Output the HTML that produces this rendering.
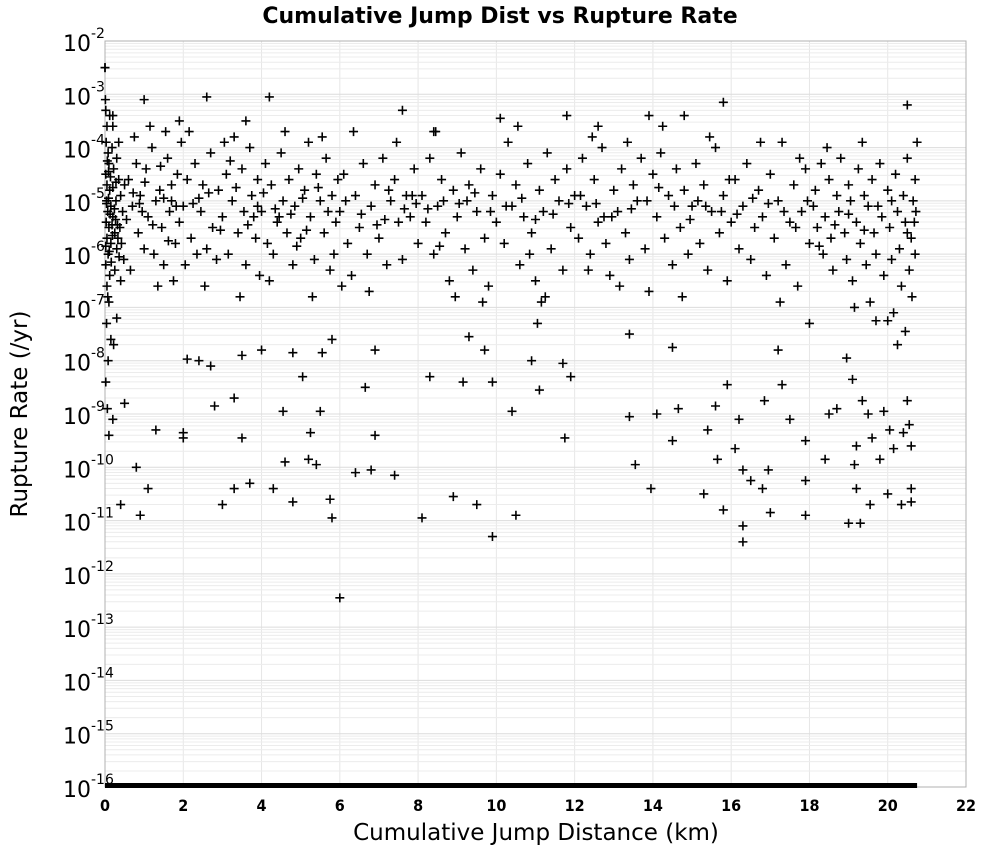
<!DOCTYPE html>
<html><head><meta charset="utf-8"><style>
html,body{margin:0;padding:0;background:#fff;}
svg{display:block;font-family:"DejaVu Sans","Liberation Sans",sans-serif;}
</style></head><body>
<svg id="chart" width="1000" height="850" viewBox="0 0 1000 850" xmlns="http://www.w3.org/2000/svg">
<text x="500" y="23" text-anchor="middle" font-size="22" font-weight="bold">Cumulative Jump Dist vs Rupture Rate</text>
<g id="grid"></g>
<rect x="105" y="41" width="861" height="746" fill="none" stroke="#b0b0b0" stroke-width="1"/>
<g id="marks"></g>
<g id="xticks"></g>
<g id="yticks"></g>
<text x="536" y="840" text-anchor="middle" font-size="23">Cumulative Jump Distance (km)</text>
<text transform="translate(27,414) rotate(-90)" text-anchor="middle" font-size="23">Rupture Rate (/yr)</text>
</svg>
<script>
const xTicks=[0,2,4,6,8,10,12,14,16,18,20,22];
const yTickExps=[-2,-3,-4,-5,-6,-7,-8,-9,-10,-11,-12,-13,-14,-15,-16];
const floorExp=-16;
const floorMaxDistance=20.75;
// [cumulative jump distance km, log10 rupture rate]
const ruptures=[
[0,-2.5],[0.02,-3.3],[0.05,-3.6],[0.03,-3.9],[0.08,-4.1],[0.1,-4.3],[0.02,-4.5],[0.05,-4.7],[0.12,-4.8],[0.04,-5.0],[0.15,-5.1],[0.07,-5.2],[0.2,-5.3],[0.03,-5.4],[0.1,-5.5],[0.25,-5.6],[0.05,-5.7],[0.15,-5.8],[0.3,-5.9],[0.08,-6.0],[0.02,-6.2],[0.12,-6.4],[0.05,-6.6],[0.1,-6.9],[0.04,-7.3],[0.15,-7.6],[0.08,-8.0],[0.02,-8.4],[0.06,-8.9],[0.1,-9.4],[0.2,-3.6],[0.3,-4.2],[0.35,-4.6],[0.4,-4.9],[0.28,-5.0],[0.45,-5.2],[0.38,-5.5],[0.22,-4.4],[0.33,-5.7],[0.48,-6.1],[0.25,-6.3],[0.4,-6.5],[0.18,-4.0],[0.5,-4.7],[0.42,-5.8],[0.3,-7.2],[0.22,-7.7],[0.35,-3.9],[0.12,-3.4],[0.27,-5.35],
[0.01,-3.1],[0.06,-4.25],[0.14,-4.55],[0.09,-4.95],[0.18,-5.45],[0.11,-5.95],[0.16,-6.15],[0.04,-5.05],[0.2,-4.75],[0.24,-5.15],[0.32,-5.45],[0.36,-6.05],[0.07,-6.8],[0.13,-5.25],[0.19,-5.65],[0.28,-4.65],[0.02,-5.85],[0.09,-4.45],
[0.6,-4.6],[0.7,-5.1],[0.8,-4.3],[0.85,-5.6],[0.9,-4.9],[1.0,-5.9],[1.05,-4.4],[1.1,-5.3],[1.2,-4.0],[1.25,-6.0],[1.3,-5.0],[1.4,-4.8],[1.45,-5.5],[1.5,-6.2],[1.6,-4.2],[1.65,-5.2],[1.7,-4.7],[1.8,-5.8],[1.85,-4.5],[1.9,-5.4],[1.95,-3.9],[0.65,-6.3],[0.75,-3.8],[1.15,-3.6],[1.35,-6.6],[1.55,-3.7],[1.75,-6.5],[0.95,-5.2],[1.5,-4.95],[1.7,-5.0],
[0.55,-5.35],[0.72,-4.85],[0.88,-5.05],[1.22,-5.45],[1.42,-4.35],[1.62,-5.75],[1.82,-5.1],[1.02,-4.65],
[2.0,-5.1],[2.1,-4.6],[2.2,-5.7],[2.3,-4.3],[2.35,-6.0],[2.45,-5.2],[2.5,-4.7],[2.6,-5.9],[2.7,-4.1],[2.75,-5.5],[2.85,-6.1],[2.9,-4.8],[3.0,-5.3],[3.1,-4.5],[3.15,-6.0],[3.25,-5.0],[3.3,-3.8],[3.4,-5.6],[3.5,-4.4],[3.55,-5.2],[3.6,-6.2],[3.7,-4.0],[3.75,-4.9],[3.85,-5.7],[3.9,-4.6],[3.95,-6.4],[2.15,-3.7],[2.55,-6.6],[3.05,-3.9],[3.45,-6.8],[2.4,-4.95],[3.8,-5.3],
[2.25,-5.05],[2.65,-4.85],[2.95,-5.55],[3.35,-4.75],[3.65,-5.45],[2.05,-6.2],[3.2,-4.25],[3.9,-5.1],
[4.0,-5.2],[4.1,-4.3],[4.15,-5.8],[4.25,-4.7],[4.3,-6.0],[4.4,-5.4],[4.5,-4.1],[4.55,-5.0],[4.65,-5.6],[4.7,-4.6],[4.8,-6.2],[4.85,-5.1],[4.95,-4.4],[5.0,-5.7],[5.1,-4.8],[5.2,-3.9],[5.25,-5.3],[5.35,-6.1],[5.4,-4.5],[5.5,-5.0],[5.6,-5.6],[5.65,-4.2],[5.75,-6.3],[5.8,-4.9],[5.9,-5.4],[5.95,-4.6],[4.6,-3.7],[5.3,-6.8],[4.2,-6.5],[5.55,-3.8],[4.45,-5.3],[5.05,-4.95],
[4.05,-4.85],[4.35,-5.15],[4.75,-5.25],[5.15,-5.55],[5.45,-4.75],[5.7,-5.2],[4.9,-5.85],[5.85,-6.0],
[6.0,-5.2],[6.1,-4.5],[6.2,-5.8],[6.3,-6.4],[6.4,-4.9],[6.5,-5.5],[6.6,-4.3],[6.7,-6.0],[6.8,-5.1],[6.9,-4.7],[7.0,-5.7],[7.1,-4.2],[7.2,-6.2],[7.3,-5.0],[7.4,-4.6],[7.5,-5.4],[7.6,-6.1],[7.7,-4.9],[7.8,-5.3],[7.9,-4.4],[8.0,-5.8],[6.35,-3.7],[6.75,-6.7],[7.45,-3.9],[7.15,-5.35],[6.05,-6.6],[7.85,-4.9],
[6.15,-5.0],[6.55,-5.25],[6.95,-5.45],[7.25,-4.8],[7.65,-5.15],[7.95,-5.05],
[8.1,-4.9],[8.2,-5.4],[8.3,-4.2],[8.4,-6.0],[8.5,-5.1],[8.6,-4.6],[8.7,-5.6],[8.8,-6.5],[8.9,-4.8],[9.0,-5.3],[9.1,-4.1],[9.2,-5.9],[9.3,-4.7],[9.4,-6.3],[9.5,-5.2],[9.6,-4.4],[9.7,-5.7],[9.8,-6.6],[9.9,-4.9],[10.0,-5.4],[8.45,-3.7],[9.25,-5.0],[9.65,-6.9],[8.95,-6.8],
[8.25,-5.15],[8.65,-5.0],[9.05,-5.05],[9.45,-4.85],[9.85,-5.2],[8.55,-5.85],
[10.1,-4.5],[10.2,-5.8],[10.3,-3.9],[10.4,-5.1],[10.5,-4.7],[10.6,-6.2],[10.7,-5.3],[10.8,-4.3],[10.9,-5.6],[11.0,-6.5],[11.1,-4.8],[11.2,-5.2],[11.25,-6.8],[11.3,-4.1],[11.4,-5.9],[11.5,-4.6],[11.6,-5.0],[11.7,-6.3],[11.8,-4.4],[11.9,-5.5],[12.0,-4.9],[11.05,-7.3],[11.15,-6.9],[10.55,-3.6],
[10.25,-5.1],[10.65,-4.95],[11.0,-5.35],[11.45,-5.25],[11.85,-5.05],[10.85,-6.0],
[12.1,-5.7],[12.2,-4.2],[12.3,-5.1],[12.4,-6.0],[12.5,-4.6],[12.6,-5.4],[12.7,-4.0],[12.8,-5.8],[12.9,-6.4],[13.0,-4.8],[13.1,-5.2],[13.2,-4.4],[13.3,-5.6],[13.4,-6.1],[13.5,-4.7],[13.6,-5.0],[13.7,-4.2],[13.8,-5.9],[13.9,-6.7],[14.0,-4.5],[12.45,-3.8],[13.35,-3.9],[13.15,-6.6],[12.75,-5.3],
[12.15,-4.9],[12.55,-5.05],[12.95,-5.3],[13.45,-5.15],[13.85,-5.0],[12.35,-6.3],
[14.1,-5.3],[14.2,-4.1],[14.3,-5.7],[14.4,-4.9],[14.5,-6.2],[14.6,-4.4],[14.7,-5.5],[14.8,-4.8],[14.9,-6.0],[15.0,-5.1],[15.1,-4.3],[15.2,-5.8],[15.3,-4.7],[15.4,-6.3],[15.5,-5.2],[15.6,-4.0],[15.7,-5.6],[15.8,-4.9],[15.9,-6.5],[16.0,-5.4],[14.25,-3.6],[15.45,-3.8],[14.75,-6.8],[15.15,-5.0],
[14.15,-4.75],[14.55,-5.1],[14.95,-5.35],[15.35,-5.1],[15.75,-5.2],[15.95,-4.6],
[16.1,-4.6],[16.2,-5.9],[16.3,-5.1],[16.4,-4.3],[16.5,-6.1],[16.6,-5.5],[16.7,-4.8],[16.8,-5.3],[16.9,-6.4],[17.0,-4.5],[17.1,-5.7],[17.2,-5.0],[17.3,-3.9],[17.4,-6.2],[17.5,-5.4],[17.6,-4.7],[17.7,-6.6],[17.8,-5.2],[17.9,-4.4],[18.0,-5.8],[17.25,-6.9],[16.75,-3.9],[17.75,-4.2],
[16.15,-5.25],[16.55,-4.95],[16.95,-5.05],[17.35,-5.2],[17.65,-5.5],[17.95,-5.0],
[18.1,-5.1],[18.15,-4.8],[18.2,-5.5],[18.3,-4.3],[18.35,-6.0],[18.4,-5.3],[18.5,-4.6],[18.55,-5.7],[18.6,-6.3],[18.7,-4.9],[18.75,-5.2],[18.8,-4.2],[18.9,-5.6],[18.95,-6.1],[19.0,-4.7],[19.05,-5.0],[19.1,-6.5],[19.2,-5.4],[19.25,-4.4],[19.3,-5.8],[19.4,-4.9],[19.45,-6.2],[19.5,-5.1],[19.6,-4.6],[19.65,-5.6],[19.7,-6.0],[19.8,-4.3],[19.85,-5.3],[19.9,-6.4],[20.0,-4.8],[20.05,-5.5],[20.1,-6.1],[20.2,-4.5],[20.25,-5.2],[20.3,-5.9],[20.35,-6.6],[20.4,-4.9],[20.45,-5.4],[20.5,-4.2],[20.55,-6.3],[20.6,-5.7],[20.65,-5.0],[20.7,-4.6],[20.7,-6.0],[20.68,-5.4],[20.62,-6.8],[19.15,-7.0],[19.55,-6.9],[20.15,-7.1],[18.45,-4.0],[19.35,-3.9],[20.75,-3.9],
[18.25,-5.85],[18.65,-5.45],[19.0,-5.25],[19.4,-5.55],[19.75,-5.1],[20.1,-5.0],[20.5,-5.6],[20.72,-5.2],
[0,-2.5],[0.2,-3.4],[1.0,-3.1],[2.6,-3.05],[4.2,-3.05],[7.6,-3.3],[10.1,-3.45],[11.8,-3.4],[13.9,-3.4],[14.8,-3.4],[15.8,-3.15],[20.5,-3.2],[12.6,-3.6],[8.4,-3.7],[1.9,-3.5],[3.6,-3.5],
[0.2,-9.1],[0.4,-10.7],[0.9,-10.9],[1.1,-10.4],[0.5,-8.8],[0.8,-10],[1.3,-9.3],[2.0,-9.35],[2.1,-7.97],[2.0,-9.45],[2.4,-8],[2.7,-8.1],[2.8,-8.85],[3.0,-10.7],[3.3,-10.4],[3.3,-8.7],[3.5,-9.45],[3.7,-10.3],[3.5,-7.9],[4.0,-7.8],[4.3,-10.4],[4.55,-8.95],[4.6,-9.9],[4.8,-7.85],[4.8,-10.65],[5.05,-8.3],[5.25,-9.35],[5.2,-9.85],[5.4,-9.95],[5.5,-8.95],[5.55,-7.85],[5.75,-10.6],[5.8,-10.95],[5.8,-7.6],[6.0,-12.45],[6.4,-10.1],[6.65,-8.5],[6.8,-10.05],[6.9,-7.8],[6.9,-9.4],[7.4,-10.15],
[8.1,-10.95],[8.3,-8.3],[8.9,-10.55],[9.15,-8.4],[9.3,-7.55],[9.5,-10.7],[9.7,-7.8],[9.9,-8.4],[9.9,-11.3],[10.4,-8.95],[10.5,-10.9],[10.9,-8.0],[11.1,-8.55],[11.7,-8.05],[11.75,-9.45],[11.9,-8.3],
[13.4,-7.5],[13.4,-9.05],[13.55,-9.95],[13.95,-10.4],[14.1,-9.0],[14.5,-7.75],[14.5,-9.5],[14.65,-8.9],[15.3,-10.5],[15.4,-9.3],[15.6,-8.85],[15.65,-9.85],[15.8,-10.8],[15.9,-8.45],[16.1,-9.65],[16.2,-9.1],[16.3,-10.05],[16.3,-11.1],[16.3,-11.4],[16.5,-10.25],[16.8,-10.4],[16.85,-8.75],[16.95,-10.05],[17.0,-10.85],[17.3,-8.45],[17.2,-7.8],[17.5,-9.1],[17.9,-10.25],[17.9,-10.9],[18.0,-7.3],[17.9,-9.5],[18.4,-9.85],[18.5,-9.0],[18.7,-8.9],[18.95,-7.95],[19.0,-11.05],[19.1,-8.35],[19.15,-9.95],[19.2,-10.4],[19.2,-9.6],[19.3,-11.05],[19.35,-8.75],[19.5,-9.0],[19.55,-10.7],[19.6,-9.45],[19.7,-7.25],[19.8,-9.85],[19.9,-8.95],[20.0,-7.25],[20.0,-10.5],[20.05,-9.3],[20.15,-9.65],[20.25,-7.7],[20.35,-10.7],[20.4,-9.35],[20.45,-7.45],[20.5,-8.75],[20.55,-9.2],[20.6,-10.4],[20.6,-9.6],[20.6,-10.65]
];
const NS='http://www.w3.org/2000/svg';
const L=105,R=966,T=41,B=787,XMIN=0,XMAX=22,YMAX=-2,YMIN=-16;
function xScale(v){return L+(v-XMIN)/(XMAX-XMIN)*(R-L);}
function yScale(e){return T+(YMAX-e)/(YMAX-YMIN)*(B-T);}
function mk(tag,attrs,parent){const el=document.createElementNS(NS,tag);for(const k in attrs)el.setAttribute(k,attrs[k]);parent.appendChild(el);return el;}
const grid=document.getElementById('grid');
for(const t of xTicks){
  const ln=mk('line',{x1:xScale(t),x2:xScale(t),y1:T,y2:B,stroke:'#e6e6e6','stroke-width':1},grid);
  
  
}
for(const e of yTickExps){
  if(e===YMIN)continue;
  for(let m=1;m<10;m++){
    const y=yScale(e-1+Math.log10(m));
    const ln=mk('line',{x1:L,x2:R,y1:y,y2:y,stroke:m===1?'#dcdcdc':'#ececec','stroke-width':1},grid);
    
    
  }
}
const xg=document.getElementById('xticks');
for(const t of xTicks){
  const tx=mk('text',{x:xScale(t),y:811,'text-anchor':'middle','font-size':16,'font-weight':'bold','font-stretch':'condensed'},xg);
  tx.textContent=String(t);
  
  
}
const yg=document.getElementById('yticks');
for(const e of yTickExps){
  const y=yScale(e);
  const tx=mk('text',{x:63,y:y+10,'text-anchor':'start','font-size':22},yg);
  
  
  const base=mk('tspan',{},tx);base.textContent='10';
  const sup=mk('tspan',{dy:-13,'font-size':14},tx);sup.textContent=String(e);
}
const mg=document.getElementById('marks');
for(const p of ruptures){
  const x=xScale(p[0]),y=yScale(p[1]);
  const c=mk('path',{d:`M${x-4.5},${y}H${x+4.5}M${x},${y-4.5}V${y+4.5}`,stroke:'#000','stroke-width':1.6,fill:'none'},mg);
  
  
}
const fl=mk('rect',{x:xScale(0),y:yScale(floorExp)-4,width:xScale(floorMaxDistance)-xScale(0),height:5,fill:'#000'},mg);


</script>
</body></html>
